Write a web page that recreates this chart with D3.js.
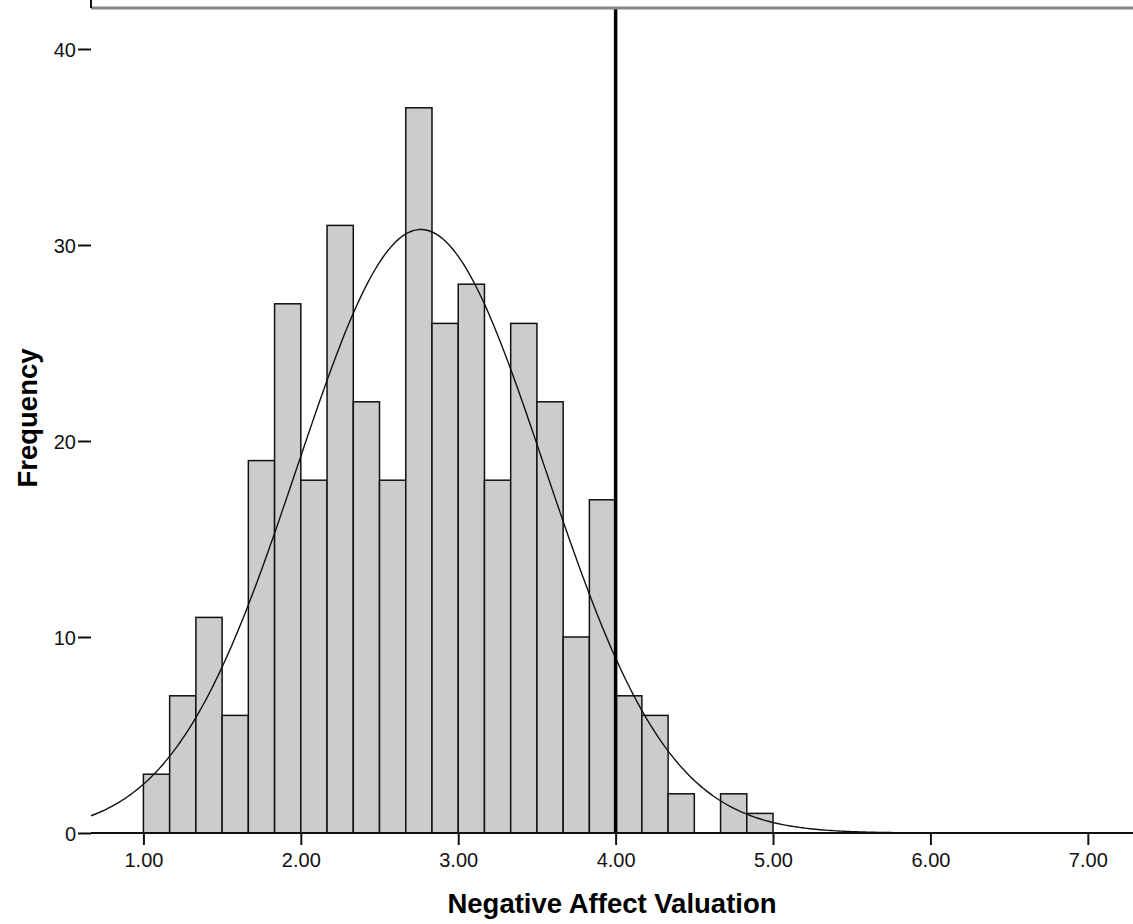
<!DOCTYPE html>
<html>
<head>
<meta charset="utf-8">
<script src="https://cdn.jsdelivr.net/npm/d3@7"></script>
<style>
  body { margin: 0; background: #fff; }
  svg text { font-family: "Liberation Sans", Arial, sans-serif; fill: #000; }
</style>
</head>
<body>
<svg id="chart" width="1133" height="924"></svg>
<script>
// histogram bins of width 1/6 starting at 1.00
const binStart = 1.0;
const binWidth = 1 / 6;
const counts = [3, 7, 11, 6, 19, 27, 18, 31, 22, 18, 37, 26, 28, 18, 26, 22, 10, 17, 7, 6, 2, 0, 2, 1];
const xTicks = [1, 2, 3, 4, 5, 6, 7];
const yTicks = [0, 10, 20, 30, 40];
const refValue = 4.0;
// fitted normal curve
const curveMean = 2.763;
const curveSd = 0.786;

const margin = {top: 8, right: 0, bottom: 91, left: 91};
const width = 1133 - margin.left - margin.right;
const height = 924 - margin.top - margin.bottom;

const svg = d3.select("#chart");
const g = svg.append("g").attr("transform", `translate(${margin.left},${margin.top})`);

const x = d3.scaleLinear().domain([0.667, 7.287]).range([0, width]);
const y = d3.scaleLinear().domain([0, 40]).range([height, height - 40 * 19.6]);

const bins = counts.map((c, i) => ({x0: binStart + i * binWidth, x1: binStart + (i + 1) * binWidth, n: c}));

// bars
g.selectAll(".bar")
    .data(bins.filter(d => d.n > 0))
    .join("rect")
    .attr("class", "bar")
    .attr("x", d => x(d.x0))
    .attr("y", d => y(d.n))
    .attr("width", d => x(d.x1) - x(d.x0))
    .attr("height", d => y(0) - y(d.n))
    .attr("fill", "#cccccc")
    .attr("stroke", "#111")
    .attr("stroke-width", 1.5);

// normal curve
const total = d3.sum(counts);
const scaleFactor = total * binWidth / (curveSd * Math.sqrt(2 * Math.PI));
const curvePts = d3.range(0, 401).map(i => {
    const v = x.domain()[0] + i * (x.domain()[1] - x.domain()[0]) / 400;
    const z = (v - curveMean) / curveSd;
    return [v, scaleFactor * Math.exp(-0.5 * z * z)];
});
g.append("path")
    .datum(curvePts)
    .attr("fill", "none")
    .attr("stroke", "#111")
    .attr("stroke-width", 1.4)
    .attr("d", d3.line().x(d => x(d[0])).y(d => y(d[1])));

// reference line
g.append("line")
    .attr("x1", x(refValue)).attr("x2", x(refValue))
    .attr("y1", 0).attr("y2", height)
    .attr("stroke", "#000")
    .attr("stroke-width", 3.5);

// top frame
g.append("line")
    .attr("x1", 0).attr("x2", width)
    .attr("y1", 0).attr("y2", 0)
    .attr("stroke", "#888")
    .attr("stroke-width", 3);

// axes
const xAxis = g.append("g")
    .attr("transform", `translate(0,${height})`)
    .call(d3.axisBottom(x).tickValues(xTicks).tickFormat(d3.format(".2f")).tickSize(12).tickSizeOuter(0));
const yAxis = g.append("g")
    .call(d3.axisLeft(y).tickValues(yTicks).tickSize(13).tickSizeOuter(0));

xAxis.select(".domain").attr("d", `M0,0H${width}`);
yAxis.select(".domain").attr("d", `M0,${-height}V0`);
[xAxis, yAxis].forEach(a => {
    a.attr("font-size", null).attr("font-family", null);
    a.select(".domain").attr("stroke", "#111").attr("stroke-width", 2);
    a.selectAll(".tick line").attr("stroke", "#111").attr("stroke-width", 2);
    a.selectAll(".tick text").style("font-size", "20px").style("fill", "#111");
});
xAxis.selectAll(".tick text").attr("dy", null).attr("y", 34);
yAxis.selectAll(".tick text").attr("x", -15).attr("dy", "0.36em");

// axis titles
svg.append("text")
    .attr("x", 612)
    .attr("y", 913)
    .attr("text-anchor", "middle")
    .style("font-size", "27.5px")
    .attr("font-weight", "bold")
    .text("Negative Affect Valuation");

svg.append("text")
    .attr("transform", `translate(37,${418}) rotate(-90)`)
    .attr("text-anchor", "middle")
    .style("font-size", "27.5px")
    .attr("font-weight", "bold")
    .text("Frequency");
</script>
</body>
</html>
